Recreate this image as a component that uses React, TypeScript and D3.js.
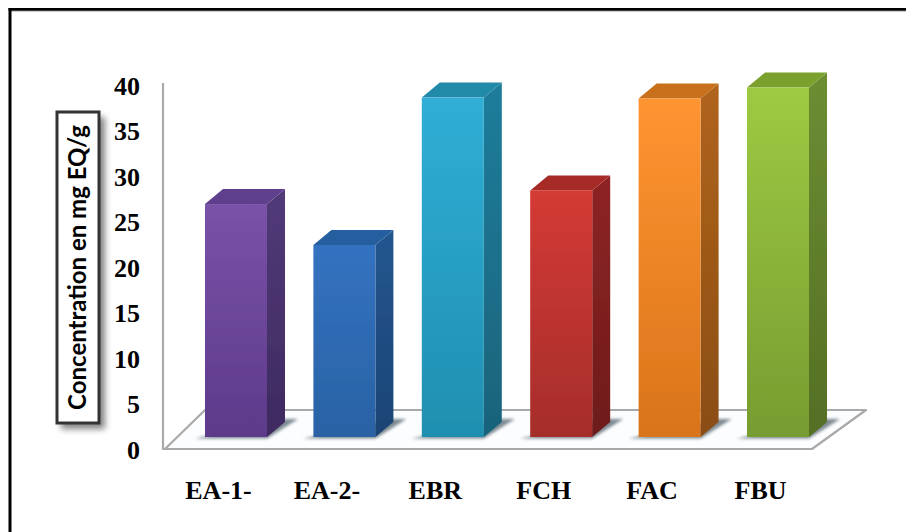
import React from "react";
import * as d3 from "d3";

const categories = ["EA-1-", "EA-2-", "EBR", "FCH", "FAC", "FBU"];
const concentrations = [25.6, 21.1, 37.3, 27.1, 37.2, 38.4];
const tickValues = [0, 5, 10, 15, 20, 25, 30, 35, 40];
const axisTitle = "Concentration en mg EQ/g";

// Face colours per bar: front top, front bottom, side top, side bottom, cap
const frontTop = ["#7a52a8", "#3272c0", "#30aed6", "#d43a34", "#ff9431", "#9dca42"];
const frontBottom = ["#5d3a8a", "#2a62a4", "#1f8fb0", "#a52d2b", "#d9741a", "#779c31"];
const sideTop = ["#523a78", "#23568f", "#1f7d9b", "#8e2423", "#b0641c", "#6d8d33"];
const sideBottom = ["#3e2a60", "#1c4475", "#19637b", "#6e1b1b", "#8a4d14", "#546f24"];
const capColor = ["#5f3f8f", "#285f9f", "#228aa9", "#a62a28", "#c9701a", "#7ba02f"];

const WIDTH = 906;
const HEIGHT = 532;
const DEPTH_X = 18;
const DEPTH_Y = 15;
const BASE_Y = 437;

const x = d3
  .scaleBand<string>()
  .domain(categories)
  .range([181.8, 832.2])
  .paddingInner(0.428)
  .paddingOuter(0.214);
const barY = d3.scaleLinear().domain([0, 40]).range([BASE_Y, 73]);
const tickY = d3.scaleLinear().domain([0, 40]).range([450, 86]);

const poly = (pts: [number, number][]) => {
  const path = d3.path();
  pts.forEach(([px, py], i) => (i ? path.lineTo(px, py) : path.moveTo(px, py)));
  path.closePath();
  return path.toString();
};

export default function App() {
  const bw = x.bandwidth();
  return (
    <svg
      width={WIDTH}
      height={HEIGHT}
      viewBox={`0 0 ${WIDTH} ${HEIGHT}`}
      style={{ position: "absolute", left: 0, top: 0, background: "#fff", display: "block" }}
    >
      <defs>
        <filter id="soft" x="-30%" y="-30%" width="160%" height="160%">
          <feGaussianBlur stdDeviation="3" />
        </filter>
        <filter id="floorShadow" x="-30%" y="-60%" width="160%" height="220%">
          <feGaussianBlur stdDeviation="1.8" />
        </filter>
        <filter id="edge" x="-5%" y="-5%" width="110%" height="110%">
          <feGaussianBlur stdDeviation="0.5" />
        </filter>
        {categories.map((c, i) => (
          <React.Fragment key={c}>
            <linearGradient id={`front${i}`} x1="0" x2="0" y1="0" y2="1">
              <stop offset="0" stopColor={frontTop[i]} />
              <stop offset="1" stopColor={frontBottom[i]} />
            </linearGradient>
            <linearGradient id={`side${i}`} x1="0" x2="0" y1="0" y2="1">
              <stop offset="0" stopColor={sideTop[i]} />
              <stop offset="1" stopColor={sideBottom[i]} />
            </linearGradient>
          </React.Fragment>
        ))}
      </defs>

      {/* Page frame: only the top and left rules are present */}
      <rect x={9} y={10} width={WIDTH - 9} height={1.5} fill="#999" />
      <rect x={8.5} y={8} width={WIDTH - 8.5} height={2.6} fill="#000" />
      <rect x={8.5} y={8} width={3} height={HEIGHT - 8} fill="#000" />

      {/* Floor and back wall of the 3D plot */}
      <path d={poly([[165, 449], [812, 449], [866, 410], [205, 410]])} fill="#fbfdfe" />
      <path
        d="M163,83 L163,449 L812,449 L866,410 L205,410 L165,449"
        fill="none"
        stroke="#a9a9a9"
        strokeWidth={2.2}
        strokeLinejoin="round"
      />

      {/* Soft shadows on the floor */}
      {categories.map((c) => {
        const x0 = x(c) as number;
        return (
          <path
            key={c}
            d={poly([
              [x0 - 10, BASE_Y + 1.5],
              [x0 + bw, BASE_Y + 1.5],
              [x0 + bw + DEPTH_X + 13, BASE_Y - 18],
              [x0 + bw + DEPTH_X, BASE_Y - 18],
            ])}
            fill="#67767f"
            opacity={0.85}
            filter="url(#floorShadow)"
          />
        );
      })}

      {/* Bars: side, cap and front face */}
      <g filter="url(#edge)">
        {categories.map((c, i) => {
          const x0 = x(c) as number;
          const x1 = x0 + bw;
          const top = barY(concentrations[i]);
          return (
            <g key={c}>
              <path
                d={poly([
                  [x1, top],
                  [x1 + DEPTH_X, top - DEPTH_Y],
                  [x1 + DEPTH_X, BASE_Y - DEPTH_Y],
                  [x1, BASE_Y],
                ])}
                fill={`url(#side${i})`}
              />
              <path
                d={poly([
                  [x0, top],
                  [x0 + DEPTH_X, top - DEPTH_Y],
                  [x1 + DEPTH_X, top - DEPTH_Y],
                  [x1, top],
                ])}
                fill={capColor[i]}
              />
              <rect x={x0} y={top} width={bw} height={BASE_Y - top} fill={`url(#front${i})`} />
            </g>
          );
        })}
      </g>

      {/* Value axis labels */}
      <g
        fontFamily="'Liberation Serif', serif"
        fontWeight="bold"
        fontSize={26}
        fill="#000"
        textAnchor="end"
      >
        {tickValues.map((t) => (
          <text key={t} x={140} y={tickY(t) + 8.8}>
            {t}
          </text>
        ))}
      </g>

      {/* Category labels */}
      <g
        fontFamily="'Liberation Serif', serif"
        fontWeight="bold"
        fontSize={26}
        fill="#000"
        textAnchor="middle"
      >
        {categories.map((c) => (
          <text key={c} x={(x(c) as number) + bw / 2 - 17.5} y={499}>
            {c}
          </text>
        ))}
      </g>

      {/* Boxed axis title */}
      <rect x={61} y={117} width={44} height={312} fill="#666" opacity={0.8} filter="url(#soft)" />
      <rect x={57} y={112} width={42} height={311} fill="#fff" stroke="#333" strokeWidth={3} />
      <text
        transform="translate(86,267.5) rotate(-90)"
        textAnchor="middle"
        fontFamily="Lato, 'Open Sans', sans-serif"
        fontWeight="bold"
        fontSize={24}
        fill="#000"
      >
        {axisTitle}
      </text>
    </svg>
  );
}
